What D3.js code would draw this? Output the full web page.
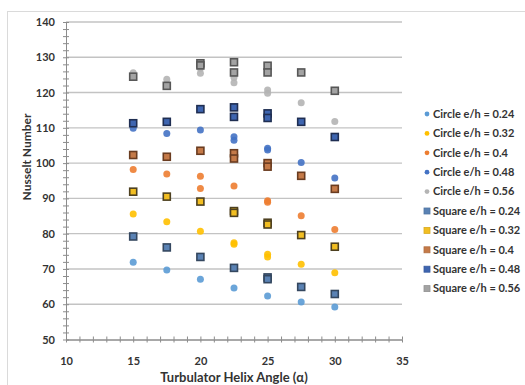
<!DOCTYPE html>
<html>
<head>
<meta charset="utf-8">
<script src="https://cdn.jsdelivr.net/npm/d3@7"></script>
<style>
  body { margin: 0; background: #fff; }
  text { font-family: Lato, "Open Sans", sans-serif; font-weight: bold; fill: #333; }
</style>
</head>
<body>
<div id="chart"></div>
<script>
// axis ticks
const xTicks = [10, 15, 20, 25, 30, 35];
const yTicks = [50, 60, 70, 80, 90, 100, 110, 120, 130, 140];

// [helix angle, Nusselt number]
const circle024 = [[15, 71.9], [17.5, 69.7], [20, 67.1], [22.5, 64.6], [25, 62.3], [27.5, 60.6], [30, 59.2]];
const circle032 = [[15, 85.6], [17.5, 83.4], [20, 80.7], [22.5, 77.4], [22.5, 77.0], [25, 74.2], [25, 73.4], [27.5, 71.3], [30, 68.9]];
const circle040 = [[15, 98.2], [17.5, 96.9], [20, 96.3], [20, 92.8], [22.5, 93.5], [25, 89.3], [25, 88.9], [27.5, 85.1], [30, 81.2]];
const circle048 = [[15, 109.9], [17.5, 108.4], [20, 109.4], [22.5, 107.5], [22.5, 106.5], [25, 104.2], [25, 103.7], [27.5, 100.2], [30, 95.8]];
const circle056 = [[15, 125.6], [17.5, 123.8], [20, 126.9], [20, 125.5], [22.5, 124.3], [22.5, 122.8], [25, 120.7], [25, 119.8], [27.5, 117.1], [30, 111.8]];
const square024 = [[15, 79.2], [17.5, 76.1], [20, 73.4], [22.5, 70.3], [25, 67.6], [25, 67.1], [27.5, 64.9], [30, 62.9]];
const square032 = [[15, 91.9], [17.5, 90.5], [20, 89.1], [22.5, 86.4], [22.5, 85.9], [25, 83.1], [25, 82.6], [27.5, 79.6], [30, 76.3]];
const square040 = [[15, 102.3], [17.5, 101.8], [20, 103.5], [22.5, 102.8], [22.5, 101.3], [25, 100.0], [25, 99.0], [27.5, 96.4], [30, 92.7]];
const square048 = [[15, 111.3], [17.5, 111.7], [20, 115.3], [22.5, 115.8], [22.5, 113.1], [25, 114.1], [25, 112.8], [27.5, 111.7], [30, 107.4]];
const square056 = [[15, 124.5], [17.5, 121.9], [20, 128.3], [20, 127.7], [22.5, 128.6], [22.5, 125.7], [25, 127.6], [25, 125.7], [27.5, 125.7], [30, 120.5]];

const series = [
  {name: 'Circle e/h = 0.24', shape: 'circle', data: circle024, fill: '#5B9BD5'},
  {name: 'Circle e/h = 0.32', shape: 'circle', data: circle032, fill: '#FFC000'},
  {name: 'Circle e/h = 0.4',  shape: 'circle', data: circle040, fill: '#ED7D31'},
  {name: 'Circle e/h = 0.48', shape: 'circle', data: circle048, fill: '#4472C4'},
  {name: 'Circle e/h = 0.56', shape: 'circle', data: circle056, fill: '#B4B4B4'},
  {name: 'Square e/h = 0.24', shape: 'square', data: square024, fill: '#5A82B4', stroke: '#34475F'},
  {name: 'Square e/h = 0.32', shape: 'square', data: square032, fill: '#F2BE22', stroke: '#4D4020'},
  {name: 'Square e/h = 0.4',  shape: 'square', data: square040, fill: '#C57A48', stroke: '#6A3C20'},
  {name: 'Square e/h = 0.48', shape: 'square', data: square048, fill: '#3E65B0', stroke: '#1F2E52'},
  {name: 'Square e/h = 0.56', shape: 'square', data: square056, fill: '#A3A3A3', stroke: '#575757'}
];

const width = 525, height = 385;

const svg = d3.select('#chart').append('svg')
  .attr('width', width)
  .attr('height', height);

// chart frame
svg.append('rect')
  .attr('x', 7.5).attr('y', 11.5)
  .attr('width', 600).attr('height', 400)
  .attr('fill', 'none').attr('stroke', '#DADADA');

const x = d3.scaleLinear().domain([10, 35]).range([66, 402]);
const y = d3.scaleLinear().domain([50, 140]).range([339.5, 22]);

// gridlines
svg.append('g')
  .selectAll('line')
  .data(yTicks.slice(1))
  .enter().append('line')
  .attr('x1', x(10)).attr('x2', x(35))
  .attr('y1', d => y(d)).attr('y2', d => y(d))
  .attr('stroke', '#C3C3C3').attr('stroke-width', 1.4);

// minor ticks crossing the axes
const yMinor = d3.range(50, 141, 2);
const xMinor = d3.range(10, 36, 1);
const styleAxis = g => {
  g.select('.domain').attr('stroke', '#8C8C8C');
  g.selectAll('.tick line').attr('stroke', '#8C8C8C');
};

svg.append('g').attr('transform', `translate(${x(10)},0)`)
  .call(d3.axisLeft(y).tickValues(yMinor).tickSize(3).tickSizeOuter(0).tickFormat(''))
  .call(styleAxis);
svg.append('g').attr('transform', `translate(${x(10)},0)`)
  .call(d3.axisRight(y).tickValues(yMinor).tickSize(3).tickSizeOuter(0).tickFormat(''))
  .call(styleAxis);
svg.append('g').attr('transform', `translate(0,${y(50)})`)
  .call(d3.axisBottom(x).tickValues(xMinor).tickSize(3).tickSizeOuter(0).tickFormat(''))
  .call(styleAxis);
svg.append('g').attr('transform', `translate(0,${y(50)})`)
  .call(d3.axisTop(x).tickValues(xMinor).tickSize(3).tickSizeOuter(0).tickFormat(''))
  .call(styleAxis);

// tick labels
svg.append('g').attr('transform', `translate(${x(10)},0)`)
  .call(d3.axisLeft(y).tickValues(yTicks).tickSize(0).tickPadding(11))
  .call(g => g.select('.domain').remove())
  .selectAll('text')
  .style('font-size', '11px').style('font-family', 'Lato, sans-serif').attr('fill', '#333');

svg.append('g').attr('transform', `translate(0,${y(50)})`)
  .call(d3.axisBottom(x).tickValues(xTicks).tickSize(0).tickPadding(18))
  .call(g => g.select('.domain').remove())
  .selectAll('text')
  .style('font-size', '11px').style('font-family', 'Lato, sans-serif').attr('fill', '#333');

// axis titles
svg.append('text')
  .attr('x', (x(10) + x(35)) / 2)
  .attr('y', 382)
  .attr('text-anchor', 'middle')
  .style('font-size', '13px')
  .text('Turbulator Helix Angle (\u03B1)');

svg.append('text')
  .attr('transform', 'translate(31,157) rotate(-90)')
  .attr('text-anchor', 'middle')
  .style('font-size', '12px')
  .text('Nusselt Number');

// points
series.forEach(s => {
  const g = svg.append('g');
  if (s.shape === 'circle') {
    g.selectAll('circle').data(s.data).enter().append('circle')
      .attr('cx', d => x(d[0])).attr('cy', d => y(d[1]))
      .attr('r', 3.5)
      .attr('fill', s.fill).attr('fill-opacity', 0.9);
  } else {
    g.selectAll('rect').data(s.data).enter().append('rect')
      .attr('x', d => x(d[0]) - 3.5).attr('y', d => y(d[1]) - 3.5)
      .attr('width', 7).attr('height', 7)
      .attr('fill', s.fill)
      .attr('stroke', s.stroke).attr('stroke-width', 1.6);
  }
});

// legend
const legend = svg.append('g').attr('transform', 'translate(427,114)');
const row = legend.selectAll('g').data(series).enter().append('g')
  .attr('transform', (d, i) => `translate(0,${i * 19.4})`);
row.each(function(s) {
  const r = d3.select(this);
  if (s.shape === 'circle') {
    r.append('circle').attr('r', 2.4).attr('fill', s.fill);
  } else {
    r.append('rect').attr('x', -3).attr('y', -3).attr('width', 6).attr('height', 6)
      .attr('fill', s.fill).attr('stroke', d3.color(s.fill).darker(0.3)).attr('stroke-width', 0.8);
  }
});
row.append('text')
  .attr('x', 6).attr('dy', '0.35em')
  .style('font-size', '11px')
  .text(d => d.name);
</script>
</body>
</html>
